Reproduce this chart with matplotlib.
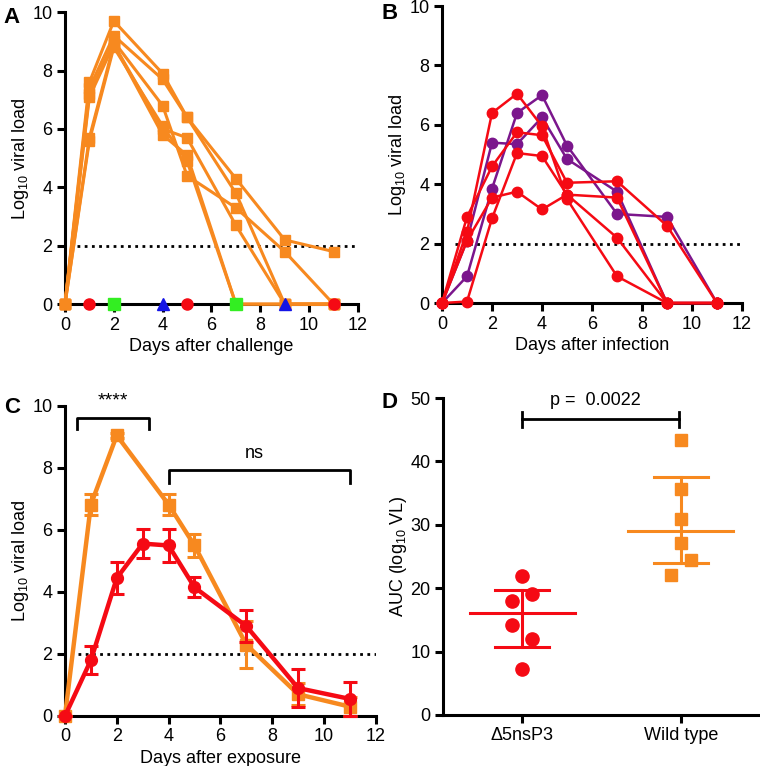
import numpy as np
import matplotlib
matplotlib.use('Agg')
import matplotlib.pyplot as plt

plt.rcParams['font.family'] = ['Liberation Sans', 'DejaVu Sans']
plt.rcParams['mathtext.default'] = 'regular'
plt.rcParams['font.size'] = 13

ORANGE = '#F7891F'
RED = '#F50A14'
PURPLE = '#7B168C'
GREEN = '#33EE22'
BLUE = '#1414E6'

# panel A: wild type challenge, individual animals
days_a = [0, 1, 2, 4, 5, 7, 9, 11]
wt_a = [
    [0, 7.6, 9.7, 7.9, 6.4, 4.3, 2.2, 1.8],
    [0, 7.4, 9.2, 7.7, 6.4, 3.8, 0, 0],
    [0, 7.2, 9.0, 6.8, 4.4, 3.3, 1.8, 0],
    [0, 5.7, 8.9, 6.0, 5.7, 2.7, 0, 0],
    [0, 7.1, 8.9, 5.8, 5.1, 0, 0, 0],
    [0, 5.6, 8.8, 6.1, 4.9, 0, 0, 0],
]
zero_red_a = [1, 5, 11]
zero_green_a = [2, 7]
zero_blue_a = [4, 9]

# panel B: delta5nsP3 infection, individual animals
days_b = [0, 1, 2, 3, 4, 5, 7, 9, 11]
purple_b = [
    [0, 2.1, 5.4, 5.35, 6.25, 4.85, 3.75, 0, 0],
    [0, 0.9, 3.85, 6.4, 7.0, 5.3, 3.0, 2.9, 0],
]
red_b = [
    [0, 2.4, 6.4, 7.05, 5.95, 3.5, 0.9, 0, 0],
    [0, 2.9, 4.6, 5.75, 5.65, 4.05, 4.1, 2.6, 0],
    [0, 0.05, 2.85, 5.05, 4.95, 3.65, 2.2, 0, 0],
    [0, 2.1, 3.55, 3.75, 3.15, 3.65, 3.55, 0, 0],
]

# panel C: means with error bars
days_wt_c = [0, 1, 2, 4, 5, 7, 9, 11]
wt_mean_c = [0, 6.82, 9.05, 6.82, 5.5, 2.3, 0.7, 0.3]
wt_err_c = [0, 0.35, 0.08, 0.35, 0.36, 0.75, 0.35, 0.3]
days_mut_c = [0, 1, 2, 3, 4, 5, 7, 9, 11]
mut_mean_c = [0, 1.8, 4.45, 5.56, 5.5, 4.15, 2.9, 0.9, 0.55]
mut_err_c = [0, 0.45, 0.52, 0.46, 0.53, 0.32, 0.52, 0.6, 0.55]

# panel D: AUC
mut_auc = [21.95, 19.05, 18.05, 14.2, 11.95, 7.2]
mut_jit = [0, 0.063, -0.063, -0.063, 0.063, 0]
wt_auc = [43.3, 35.6, 30.9, 27.1, 24.5, 22.1]
wt_jit = [0, 0, 0, 0, 0.063, -0.063]
groups = ['\u03945nsP3', 'Wild type']


def style(ax, xlab, ylab):
    for s in ['top', 'right']:
        ax.spines[s].set_visible(False)
    for s in ['left', 'bottom']:
        ax.spines[s].set_linewidth(2.2)
    ax.tick_params(width=2.2, length=6, labelsize=13, pad=3)
    ax.set_xlabel(xlab, fontsize=13, labelpad=3)
    ax.set_ylabel(ylab, fontsize=13, labelpad=1)


fig = plt.figure(figsize=(7.6, 7.66), dpi=100)

# ---- A
ax = fig.add_axes([0.0855, 0.603, 0.3855, 0.381])
ax.plot([0.5, 12], [2, 2], ls=(0, (1, 1.6)), color='k', lw=2)
for v in wt_a:
    ax.plot(days_a, v, '-s', color=ORANGE, lw=2.2, ms=7, clip_on=False, zorder=3)
ax.plot(zero_red_a, np.zeros(len(zero_red_a)), 'o', color=RED, ms=8, clip_on=False, zorder=5)
ax.plot(zero_green_a, np.zeros(len(zero_green_a)), 's', color=GREEN, ms=8, clip_on=False, zorder=5)
ax.plot(zero_blue_a, np.zeros(len(zero_blue_a)), '^', color=BLUE, ms=8, clip_on=False, zorder=5)
ax.set_xlim(0, 12)
ax.set_ylim(0, 10)
ax.set_xticks(range(0, 13, 2))
ax.set_yticks(range(0, 11, 2))
style(ax, 'Days after challenge', 'Log$_{10}$ viral load')
fig.text(0.005, 0.97, 'A', fontsize=16, fontweight='bold')

# ---- B
ax = fig.add_axes([0.5816, 0.6044, 0.3947, 0.3877])
ax.plot([0.5, 12], [2, 2], ls=(0, (1, 1.6)), color='k', lw=2)
for v in purple_b:
    ax.plot(days_b, v, '-o', color=PURPLE, lw=1.8, ms=7.5, clip_on=False, zorder=3)
for v in red_b:
    ax.plot(days_b, v, '-o', color=RED, lw=1.8, ms=7.5, clip_on=False, zorder=4)
ax.set_xlim(0, 12)
ax.set_ylim(0, 10)
ax.set_xticks(range(0, 13, 2))
ax.set_yticks(range(0, 11, 2))
style(ax, 'Days after infection', 'Log$_{10}$ viral load')
fig.text(0.502, 0.975, 'B', fontsize=16, fontweight='bold')

# ---- C
ax = fig.add_axes([0.0855, 0.0653, 0.409, 0.4047])
ax.plot([0.5, 12], [2, 2], ls=(0, (1, 1.6)), color='k', lw=2)
ax.errorbar(days_wt_c, wt_mean_c, yerr=wt_err_c, fmt='-s', color=ORANGE, lw=3.2,
            ms=8, elinewidth=2.2, capsize=5, capthick=2.2, clip_on=False, zorder=3)
ax.errorbar(days_mut_c, mut_mean_c, yerr=mut_err_c, fmt='-o', color=RED, lw=3.2,
            ms=8.5, elinewidth=2.2, capsize=5, capthick=2.2, clip_on=False, zorder=4)
ax.plot([0.45, 0.45, 3.25, 3.25], [9.25, 9.6, 9.6, 9.25], color='k', lw=2, clip_on=False)
ax.text(1.85, 9.9, '****', ha='center', va='bottom', fontsize=14)
ax.plot([4, 4, 11, 11], [7.5, 7.95, 7.95, 7.5], color='k', lw=2, clip_on=False)
ax.text(7.3, 8.2, 'ns', ha='center', va='bottom', fontsize=13)
ax.set_xlim(0, 12)
ax.set_ylim(0, 10)
ax.set_xticks(range(0, 13, 2))
ax.set_yticks(range(0, 11, 2))
style(ax, 'Days after exposure', 'Log$_{10}$ viral load')
fig.text(0.005, 0.461, 'C', fontsize=16, fontweight='bold')

# ---- D: median with interquartile range
ax = fig.add_axes([0.583, 0.0666, 0.417, 0.4138])
ax.plot(np.array(mut_jit), mut_auc, 'o', color=RED, ms=9.5, zorder=3)
ax.plot(1 + np.array(wt_jit), wt_auc, 's', color=ORANGE, ms=9, zorder=3)
for i, (vals, col) in enumerate([(mut_auc, RED), (wt_auc, ORANGE)]):
    q1, med, q3 = np.percentile(vals, [25, 50, 75], method='weibull')
    ax.plot([i - 0.33, i + 0.33], [med, med], color=col, lw=2.2, zorder=2)
    ax.plot([i - 0.17, i + 0.17], [q3, q3], color=col, lw=2.2, zorder=2)
    ax.plot([i - 0.17, i + 0.17], [q1, q1], color=col, lw=2.2, zorder=2)
    ax.plot([i, i], [q1, q3], color=col, lw=2.2, zorder=2)
ax.plot([0, 0.99], [46.7, 46.7], color='k', lw=2)
ax.plot([0, 0], [45.5, 47.8], color='k', lw=2)
ax.plot([0.99, 0.99], [45.5, 47.8], color='k', lw=2)
ax.text(0.46, 48.3, 'p =  0.0022', ha='center', va='bottom', fontsize=13)
ax.set_xlim(-0.5, 1.5)
ax.set_ylim(0, 50)
ax.set_xticks([0, 1])
ax.set_xticklabels(groups)
ax.set_yticks(range(0, 51, 10))
style(ax, '', 'AUC (log$_{10}$ VL)')
fig.text(0.502, 0.467, 'D', fontsize=16, fontweight='bold')

fig.savefig('out.png', dpi=100)
